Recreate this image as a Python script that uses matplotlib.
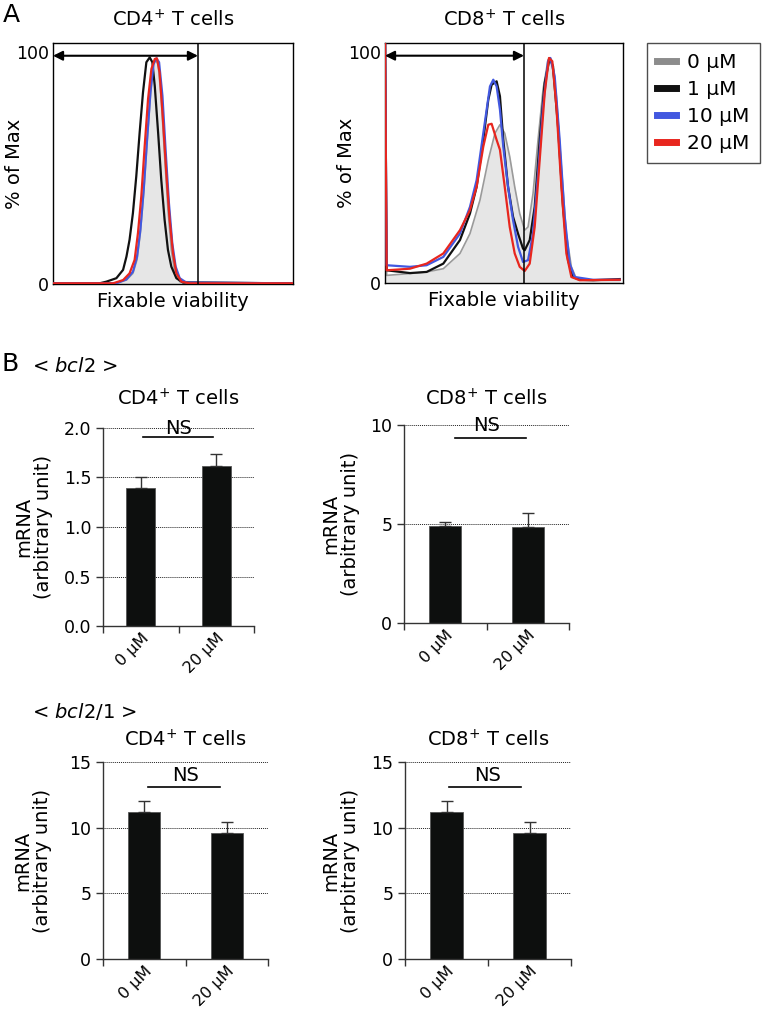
import matplotlib.pyplot as plt
from matplotlib.lines import Line2D

plt.rcParams['font.family'] = ['DejaVu Sans']
plt.rcParams['font.size'] = 12

conc_labels = ['0 µM', '1 µM', '10 µM', '20 µM']
conc_colors = ['#8c8c8c', '#111111', '#4258e0', '#e8261e']

# --- panel A: fixable viability histograms (x: channel 0-100, y: % of max) ---
cd4_gate = 60.4
cd4_x_0 = [0, 26.4, 30.6, 33.3, 35.0, 36.4, 37.8, 39.2, 40.6, 41.7, 42.6, 43.8, 45.1, 46.5, 47.9, 49.3, 50.7, 52.8, 100]
cd4_y_0 = [0.3, 0.3, 1.7, 4.6, 10.4, 22.0, 39.3, 61.0, 81.2, 94.2, 97.1, 94.9, 79.8, 55.2, 32.1, 14.7, 5.3, 1.0, 0.3]
cd4_x_1 = [0, 19.4, 22.2, 26.4, 29.2, 30.6, 31.9, 33.3, 34.7, 36.1, 37.5, 38.9, 40.3, 41.4, 42.4, 43.8, 45.1, 46.5, 47.9, 49.3, 51.4, 54.2, 100]
cd4_y_1 = [0.3, 0.3, 1.0, 2.5, 6.1, 11.8, 19.1, 30.6, 46.5, 65.3, 82.7, 95.7, 97.8, 95.7, 85.5, 65.3, 45.1, 27.7, 14.7, 7.5, 2.5, 0.6, 0.3]
cd4_x_10 = [0, 26.4, 30.6, 33.3, 35.0, 36.4, 37.8, 39.2, 40.6, 41.9, 43.1, 44.2, 45.6, 46.9, 48.3, 49.7, 51.1, 52.8, 55.6, 100]
cd4_y_10 = [0.3, 0.3, 2.0, 5.3, 11.8, 23.4, 40.8, 62.4, 82.7, 94.9, 97.4, 95.7, 81.2, 58.1, 35.0, 17.6, 7.5, 2.5, 0.6, 0.3]
cd4_x_20 = [0, 25.0, 29.2, 31.9, 34.0, 35.4, 36.8, 38.2, 39.6, 41.0, 42.4, 43.3, 44.4, 45.8, 47.2, 48.6, 50.0, 51.4, 53.5, 56.9, 100]
cd4_y_20 = [0.3, 0.3, 1.7, 4.6, 10.4, 22.0, 37.9, 59.5, 79.8, 92.8, 97.1, 97.4, 91.3, 71.1, 48.0, 27.7, 13.3, 4.6, 1.0, 0.3, 0.3]

cd8_gate = 58.4
cd8_x_0 = [0, 0.7, 10.5, 17.5, 24.5, 31.5, 35.7, 39.9, 43.4, 46.2, 48.3, 50.3, 52.4, 54.5, 56.6, 58.7, 60.1, 62.2, 64.3, 66.4, 68.5, 69.9, 72.0, 74.1, 76.2, 78.3, 80.4, 87.4, 98.6]
cd8_y_0 = [110, 3.3, 4.1, 4.8, 6.2, 12.8, 21.4, 35.9, 53.3, 64.9, 68.6, 64.9, 54.8, 41.7, 30.1, 22.9, 24.3, 38.8, 62.0, 83.8, 96.8, 96.8, 80.9, 50.4, 21.4, 7.0, 1.9, 1.2, 1.2]
cd8_x_1 = [0, 0.7, 10.5, 17.5, 24.5, 31.5, 35.7, 38.5, 41.3, 43.4, 44.8, 46.9, 48.3, 49.7, 51.7, 53.8, 55.9, 58.0, 58.7, 60.8, 62.9, 65.0, 67.1, 69.2, 70.6, 72.7, 74.8, 76.9, 79.0, 81.8, 87.4, 98.6]
cd8_y_1 = [110, 5.5, 4.3, 4.8, 8.4, 18.6, 30.1, 41.7, 62.0, 79.4, 85.9, 87.4, 80.9, 62.0, 41.7, 28.7, 21.4, 14.9, 14.2, 18.6, 33.0, 62.0, 86.7, 97.5, 93.9, 67.8, 33.0, 9.9, 2.6, 1.4, 1.2, 1.7]
cd8_x_10 = [0, 0.7, 10.5, 17.5, 24.5, 31.5, 35.7, 38.5, 41.3, 44.1, 45.5, 46.9, 48.3, 49.7, 51.7, 53.8, 55.9, 58.0, 60.1, 62.2, 64.3, 66.4, 68.5, 69.5, 71.3, 73.4, 75.5, 77.6, 79.7, 87.4, 98.6]
cd8_y_10 = [110, 7.7, 7.0, 7.7, 11.3, 21.4, 33.0, 44.6, 64.9, 85.2, 88.1, 85.2, 75.1, 59.1, 41.7, 27.2, 15.7, 9.1, 9.9, 21.4, 47.5, 76.5, 96.1, 97.5, 89.6, 62.0, 28.7, 8.4, 2.6, 1.4, 1.4]
cd8_x_20 = [0, 0.7, 10.5, 17.5, 24.5, 31.5, 35.7, 38.5, 41.3, 43.4, 44.8, 46.9, 48.3, 50.3, 52.4, 54.5, 56.6, 58.7, 60.8, 62.9, 65.0, 67.1, 68.9, 70.3, 72.0, 74.1, 76.2, 78.3, 81.8, 98.6]
cd8_y_20 = [110, 5.5, 6.2, 8.4, 12.8, 22.9, 31.6, 41.7, 59.1, 68.6, 69.0, 62.0, 57.7, 41.7, 24.3, 12.8, 7.0, 5.2, 8.4, 24.3, 53.3, 82.3, 97.5, 96.1, 76.5, 41.7, 12.8, 2.6, 1.2, 1.4]

# --- panel B: qPCR bars (mean, upper error) ---
groups = ['0 µM', '20 µM']
bcl2_cd4_mean = [1.39, 1.62]
bcl2_cd4_err = [0.12, 0.115]
bcl2_cd8_mean = [4.88, 4.85]
bcl2_cd8_err = [0.24, 0.71]
bcl21_cd4_mean = [11.21, 9.61]
bcl21_cd4_err = [0.83, 0.81]
bcl21_cd8_mean = [11.21, 9.61]
bcl21_cd8_err = [0.83, 0.81]

fig = plt.figure(figsize=(7.69, 10.14), dpi=100)


def hist_panel(rect, title, gate, curves):
    ax = fig.add_axes(rect)
    xs0, ys0 = curves[0]
    ax.fill_between(xs0, ys0, 0, color='#e6e6e6', lw=0, zorder=1)
    ax.plot(xs0, ys0, color='#9a9a9a', lw=1.2, zorder=2)
    for (xs, ys), c in zip(curves[1:], conc_colors[1:]):
        ax.plot(xs, ys, color=c, lw=1.6, zorder=3)
    ax.set_xlim(0, 100)
    ax.set_ylim(0, 104)
    ax.axvline(gate, color='black', lw=1.1, zorder=4)
    ax.annotate('', xy=(0, 98.5), xytext=(gate, 98.5),
                arrowprops=dict(arrowstyle='<|-|>', color='black', lw=1.5,
                                mutation_scale=14, shrinkA=0, shrinkB=0), zorder=5)
    ax.set_xticks([])
    ax.set_yticks([0, 100])
    ax.tick_params(axis='y', length=0, pad=3, labelsize=12.5)
    for s in ax.spines.values():
        s.set_linewidth(1.0)
    ax.set_xlabel('Fixable viability', fontsize=14, labelpad=6)
    ax.set_ylabel('% of Max', fontsize=14)
    ax.yaxis.set_label_coords(-0.12, 0.5)
    ax.set_title(title, fontsize=14, pad=12)
    return ax


hist_panel([53 / 769, 1 - 284 / 1014, 240 / 769, 241 / 1014], 'CD4$^{+}$ T cells', cd4_gate,
           [(cd4_x_0, cd4_y_0), (cd4_x_1, cd4_y_1), (cd4_x_10, cd4_y_10), (cd4_x_20, cd4_y_20)])
hist_panel([385 / 769, 1 - 283 / 1014, 238 / 769, 240 / 1014], 'CD8$^{+}$ T cells', cd8_gate,
           [(cd8_x_0, cd8_y_0), (cd8_x_1, cd8_y_1), (cd8_x_10, cd8_y_10), (cd8_x_20, cd8_y_20)])

handles = [Line2D([0], [0], color=c, lw=5) for c in conc_colors]
leg = fig.legend(handles, conc_labels, loc='upper left', bbox_to_anchor=(647 / 769, 1 - 43 / 1014),
                 fontsize=14.5, frameon=True, fancybox=False, handlelength=0.95, handletextpad=0.55,
                 borderpad=0.5, labelspacing=0.4, borderaxespad=0)
leg.get_frame().set_edgecolor('#222222')
leg.get_frame().set_linewidth(1.0)


def bar_panel(rect, title, mean, err, yticks, ylabs, ns_x, ns_y, ns_ty, pad, lab_x):
    ax = fig.add_axes(rect)
    pos = [0.5, 1.5]
    ax.bar(pos, mean, width=0.39, color='#0d0f0e', edgecolor='#555555', lw=0.6, zorder=2)
    ax.errorbar(pos, mean, yerr=[[0, 0], err], fmt='none', ecolor='#333333',
                elinewidth=1.0, capsize=4, capthick=1.0, zorder=3)
    ax.set_xlim(0, 2)
    ax.set_ylim(0, yticks[-1])
    ax.set_yticks(yticks)
    ax.set_yticklabels(ylabs)
    ax.yaxis.grid(True, linestyle=(0, (1, 1)), color='#222222', lw=0.7)
    ax.set_axisbelow(True)
    ax.set_xticks([0, 1, 2])
    ax.set_xticklabels([])
    ax.set_xticks(pos, minor=True)
    ax.set_xticklabels(groups, minor=True, rotation=45, ha='right', rotation_mode='anchor')
    ax.tick_params(axis='x', which='minor', length=0, pad=3, labelsize=11.5)
    ax.tick_params(axis='both', which='major', length=5, width=1.0, color='#333333', labelsize=12.5)
    for s in ['top', 'right']:
        ax.spines[s].set_visible(False)
    for s in ['left', 'bottom']:
        ax.spines[s].set_linewidth(1.0)
        ax.spines[s].set_color('#333333')
    ax.plot(ns_x, [ns_y, ns_y], color='black', lw=1.2, clip_on=False, zorder=4)
    ax.text(1.0, ns_ty, 'NS', ha='center', va='center', fontsize=14)
    ax.set_ylabel('mRNA\n(arbitrary unit)', fontsize=14, linespacing=1.05)
    ax.yaxis.set_label_coords(lab_x, 0.5)
    ax.set_title(title, fontsize=14, pad=pad)
    return ax


bar_panel([103 / 769, 1 - 626 / 1014, 151 / 769, 198 / 1014], 'CD4$^{+}$ T cells',
          bcl2_cd4_mean, bcl2_cd4_err, [0.0, 0.5, 1.0, 1.5, 2.0], ['0.0', '0.5', '1.0', '1.5', '2.0'],
          [0.53, 1.46], 1.906, 2.0, 16, -0.33)
bar_panel([404 / 769, 1 - 623 / 1014, 165 / 769, 198 / 1014], 'CD8$^{+}$ T cells',
          bcl2_cd8_mean, bcl2_cd8_err, [0, 5, 10], ['0', '5', '10'],
          [0.62, 1.48], 9.33, 9.95, 14, -0.267)
bar_panel([103 / 769, 1 - 959 / 1014, 165 / 769, 197 / 1014], 'CD4$^{+}$ T cells',
          bcl21_cd4_mean, bcl21_cd4_err, [0, 5, 10, 15], ['0', '5', '10', '15'],
          [0.545, 1.418], 13.1, 14.0, 11, -0.31)
bar_panel([405 / 769, 1 - 959 / 1014, 166 / 769, 197 / 1014], 'CD8$^{+}$ T cells',
          bcl21_cd8_mean, bcl21_cd8_err, [0, 5, 10, 15], ['0', '5', '10', '15'],
          [0.53, 1.40], 13.1, 14.0, 11, -0.27)

fig.text(3 / 769, 1 - 3 / 1014, 'A', fontsize=18, ha='left', va='top')
fig.text(2 / 769, 1 - 364 / 1014, 'B', fontsize=18, ha='left', va='center')
fig.text(32 / 769, 1 - 367 / 1014, '< $\\it{bcl2}$ >', fontsize=14, ha='left', va='center')
fig.text(32 / 769, 1 - 711 / 1014, '< $\\it{bcl2/1}$ >', fontsize=14, ha='left', va='center')

fig.savefig('out.png', dpi=100)
